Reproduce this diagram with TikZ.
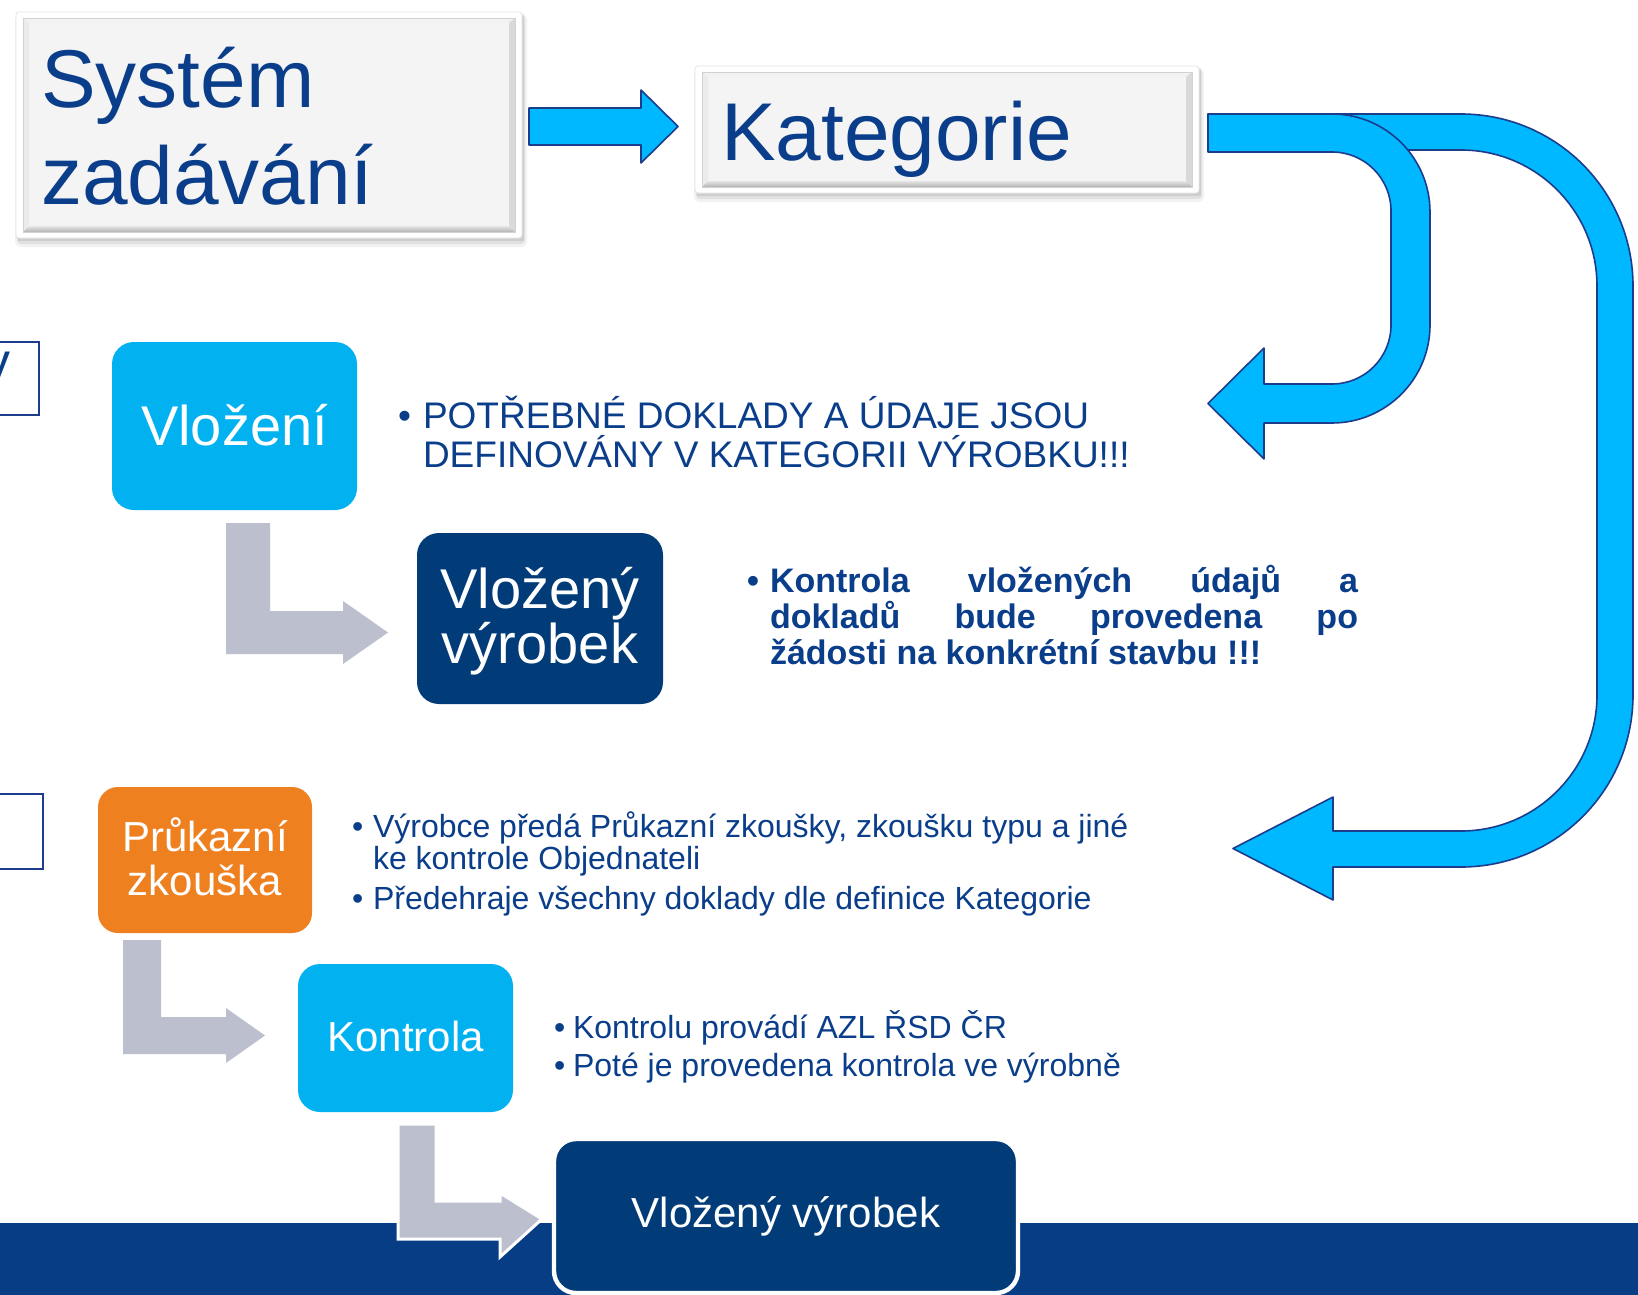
\documentclass[tikz,border=0pt]{standalone}
\usepackage{fontspec}
\setmainfont{Liberation Sans}
\definecolor{navytxt}{RGB}{10,62,138}
\definecolor{cyanbox}{RGB}{2,178,240}
\definecolor{arrowcyan}{RGB}{0,184,255}
\definecolor{arrowline}{RGB}{28,60,140}
\definecolor{darkbox}{RGB}{1,60,121}
\definecolor{bandc}{RGB}{7,61,133}
\definecolor{orangebox}{RGB}{238,128,32}
\definecolor{grayarrow}{RGB}{188,191,206}
\definecolor{panelc}{RGB}{244,244,244}
\newcommand{\bevbox}[4]{%
  \fill[black,opacity=0.05,rounded corners=3pt] (#1-1,#2+2) rectangle (#3+5,#4+9);
  \fill[black,opacity=0.07,rounded corners=2pt] (#1+1,#2+3) rectangle (#3+3,#4+6);
  \fill[black,opacity=0.08] (#1+2,#2+2) rectangle (#3+2,#4+3);
  \fill[white,rounded corners=1.5pt] (#1,#2) rectangle (#3,#4);
  \draw[black!10,line width=0.4pt,rounded corners=1.5pt] (#1,#2) rectangle (#3,#4);
  \fill[panelc] (#1+7,#2+6) rectangle (#3-7,#4-6);
  \fill[gray!10] (#1+7,#2+6) -- (#3-7,#2+6) -- (#3-13,#2+11) -- (#1+13,#2+11) -- cycle;
  \fill[gray!16] (#1+7,#2+6) -- (#1+13,#2+11) -- (#1+13,#4-12) -- (#1+7,#4-6) -- cycle;
  \fill[gray!30] (#3-7,#2+6) -- (#3-7,#4-6) -- (#3-13,#4-12) -- (#3-13,#2+11) -- cycle;
  \shade[top color=gray!20,bottom color=gray!60] (#1+7,#4-6) -- (#3-7,#4-6) -- (#3-13,#4-12) -- (#1+13,#4-12) -- cycle;
  \draw[gray!35,line width=0.3pt] (#1+7,#2+6) rectangle (#3-7,#4-6);
}
\begin{document}
\begin{tikzpicture}[x=0.5pt,y=-0.5pt,
  bluearrow/.style={fill=arrowcyan,draw=arrowline,line width=0.8pt,line join=round},
  grayarr/.style={fill=grayarrow,draw=none},
  boxbase/.style={rectangle,inner sep=0pt,outer sep=0pt,draw=none},
  cyanrect/.style={boxbase,fill=cyanbox,rounded corners=11pt},
  darkrect/.style={boxbase,fill=darkbox,rounded corners=11pt},
  orangerect/.style={boxbase,fill=orangebox,rounded corners=10pt},
  bigtxt/.style={inner sep=0pt,outer sep=0pt,text=navytxt,font=\fontsize{41pt}{49pt}\selectfont},
  boxtxt/.style={inner sep=0pt,outer sep=0pt,text=white,anchor=base},
  txtA/.style={inner sep=0pt,outer sep=0pt,text=navytxt,anchor=base west,font=\fontsize{18.5pt}{22pt}\selectfont},
  txtB/.style={inner sep=0pt,outer sep=0pt,text=navytxt,anchor=base west,font=\fontsize{17pt}{20pt}\selectfont\bfseries},
  txtC/.style={inner sep=0pt,outer sep=0pt,text=navytxt,anchor=base west,font=\fontsize{16pt}{19pt}\selectfont},
  leftbox/.style={draw=arrowline,line width=0.9pt,fill=white}
]
\useasboundingbox (0,0) rectangle (1638,1295);
\fill[white] (0,0) rectangle (1638,1295);

% bottom band
\fill[bandc] (0,1223) rectangle (1638,1295);

% top bevel boxes
\bevbox{16}{12}{522}{238}
\bevbox{695}{66}{1199}{193}
\node[bigtxt,anchor=base west] (sys1) at (41,108) {Systém};
\node[bigtxt,anchor=base west] (sys2) at (41,204) {zadávání};
\node[bigtxt,anchor=base west] (kat) at (721,161) {Kategorie};

% straight arrow
\path[bluearrow] (529,108) -- (641,108) -- (641,90) -- (678,126.5) -- (641,163) -- (641,145) -- (529,145) -- cycle;

% big bent arrow
\path[bluearrow] (1208,114) -- (1461,114) .. controls (1556,114) and (1633,191) .. (1633,286) -- (1633,695) .. controls (1633,790) and (1556,867) .. (1461,867) -- (1333,867) -- (1333,900) -- (1233,848.5) -- (1333,797) -- (1333,831) -- (1461,831) .. controls (1536,831) and (1597,770) .. (1597,695) -- (1597,286) .. controls (1597,211) and (1536,150) .. (1461,150) -- (1208,150) -- cycle;

% small U arrow
\path[bluearrow] (1208,114) -- (1332,114) .. controls (1386,114) and (1430,158) .. (1430,212) -- (1430,325) .. controls (1430,379) and (1386,423) .. (1332,423) -- (1264,423) -- (1264,459) -- (1208,403.5) -- (1264,348) -- (1264,384) -- (1332,384) .. controls (1364.6,384) and (1391,357.6) .. (1391,325) -- (1391,211) .. controls (1391,178.4) and (1364.6,152) .. (1332,152) -- (1208,152) -- cycle;

% left clipped boxes
\draw[leftbox] (-10,342) rectangle (39,415);
\node[inner sep=0pt,text=navytxt,anchor=base east,font=\fontsize{26pt}{30pt}\selectfont] (ypart) at (11,379) {y};
\draw[leftbox] (-10,794) rectangle (43,869);

% coloured boxes
\node[cyanrect,minimum width=122.5pt,minimum height=84pt] (vlozeni) at (234.5,426) {};
\node[boxtxt,font=\fontsize{28pt}{33pt}\selectfont] (vlozenit) at (234.5,445) {Vložení};

\node[darkrect,minimum width=123pt,minimum height=85.5pt] (vyrobek) at (540,618.5) {};
\node[boxtxt,font=\fontsize{28pt}{33pt}\selectfont] (vyrobekt1) at (540,608) {Vložený};
\node[boxtxt,font=\fontsize{28pt}{33pt}\selectfont] (vyrobekt2) at (540,663) {výrobek};

\node[orangerect,minimum width=107pt,minimum height=73pt] (pruk) at (205,860) {};
\node[boxtxt,font=\fontsize{21pt}{25pt}\selectfont] (prukt1) at (205,851) {Průkazní};
\node[boxtxt,font=\fontsize{21pt}{25pt}\selectfont] (prukt2) at (205,895) {zkouška};

\node[cyanrect,minimum width=107.5pt,minimum height=74pt] (kontrola) at (405.5,1038) {};
\node[boxtxt,font=\fontsize{21pt}{25pt}\selectfont] (kontrolat) at (405.5,1051) {Kontrola};

% gray bent arrows
\path[grayarr] (226,523) -- (270,523) -- (270,611) -- (343,611) -- (343,601) -- (388,632.5) -- (343,664) -- (343,654) -- (226,654) -- cycle;
\path[grayarr] (123,940) -- (161,940) -- (161,1017) -- (226,1017) -- (226,1008) -- (265,1035.5) -- (226,1063) -- (226,1054) -- (123,1054) -- cycle;
\path[grayarr,draw=white,line width=1.5pt] (398,1124) -- (436,1124) -- (436,1201) -- (500,1201) -- (500,1193) -- (542,1219) -- (500,1257) -- (500,1239) -- (398,1239) -- cycle;

% bottom box
\node[darkrect,draw=white,line width=2.2pt,minimum width=232pt,minimum height=77pt] (final) at (786,1216) {};
\node[boxtxt,font=\fontsize{21pt}{25pt}\selectfont] (finalt) at (786,1227) {Vložený výrobek};

% text 1
\node[txtA] (b1) at (398,428) {•};
\node[txtA] (t1a) at (423,428) {POTŘEBNÉ DOKLADY A ÚDAJE JSOU};
\node[txtA] (t1b) at (423,467) {DEFINOVÁNY V KATEGORII VÝROBKU!!!};

% text 2
\node[txtB] (b2) at (747,592) {•};
\node[txtB] (t2a) at (770,592) {\makebox[294pt][l]{Kontrola\hfill vložených\hfill údajů\hfill a}};
\node[txtB] (t2b) at (770,628) {\makebox[294pt][l]{dokladů\hfill bude\hfill provedena\hfill po}};
\node[txtB] (t2c) at (770,664) {žádosti na konkrétní stavbu !!!};

% text 3
\node[txtC] (b3a) at (352,837) {•};
\node[txtC] (t3a) at (373,837) {Výrobce předá Průkazní zkoušky, zkoušku typu a jiné};
\node[txtC] (t3b) at (373,869) {ke kontrole Objednateli};
\node[txtC] (b3b) at (352,909) {•};
\node[txtC] (t3c) at (373,909) {Předehraje všechny doklady dle definice Kategorie};

% text 4
\node[txtC] (b4a) at (554,1038) {•};
\node[txtC] (t4a) at (573,1038) {Kontrolu provádí AZL ŘSD ČR};
\node[txtC] (b4b) at (554,1076) {•};
\node[txtC] (t4b) at (573,1076) {Poté je provedena kontrola ve výrobně};
\end{tikzpicture}
\end{document}
